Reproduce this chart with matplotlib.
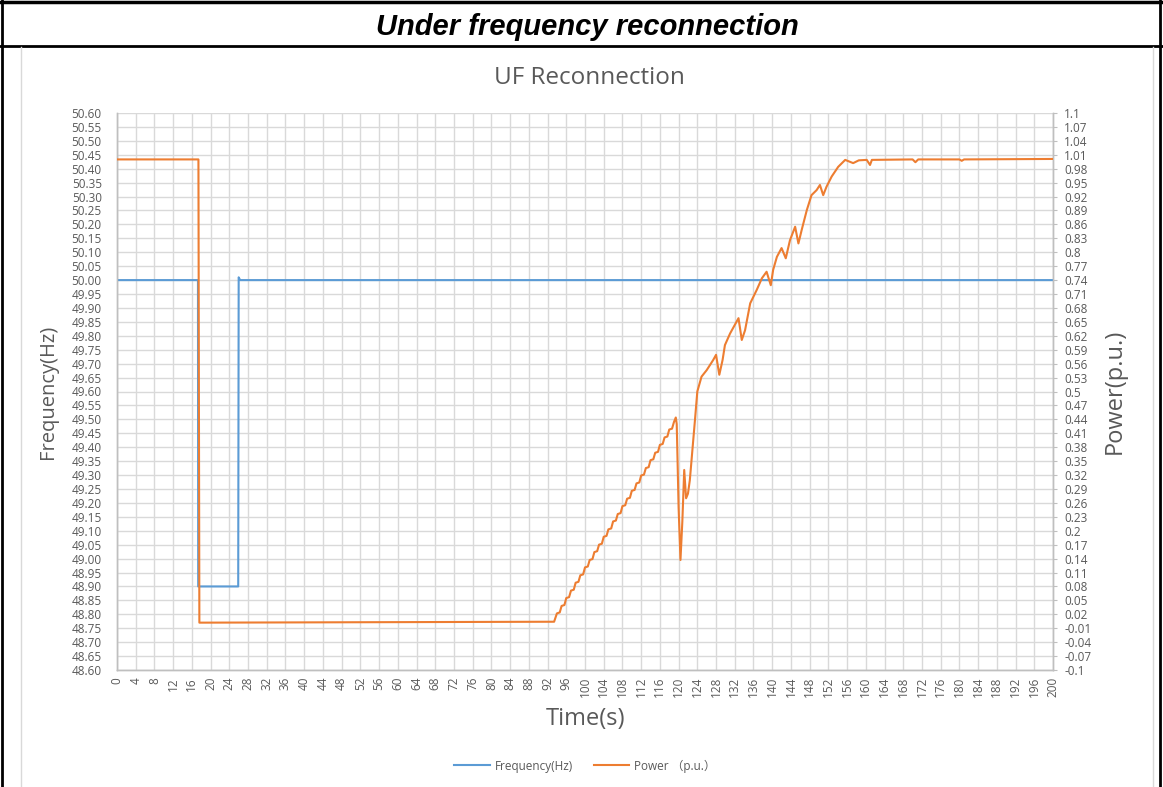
import matplotlib
matplotlib.use("Agg")
import matplotlib.pyplot as plt
from matplotlib.lines import Line2D
import numpy as np

# ---------------- data ----------------
freq_t = [0, 17.3, 17.35, 25.9, 26.0, 26.3, 200]
freq_hz = [50.0, 50.0, 48.90, 48.90, 50.01, 50.0, 50.0]

power_t = [0, 17.4, 17.6, 93.4, 94.0, 94.6, 95.0,
           95.6, 96.0, 96.6, 97.0, 97.6, 98.0, 98.6, 99.0, 99.6, 100.0,
           100.6, 101.0, 101.6, 102.0, 102.6, 103.0, 103.6, 104.0, 104.6, 105.0,
           105.6, 106.0, 106.6, 107.0, 107.6, 108.0, 108.6, 109.0, 109.6, 110.0,
           110.6, 111.0, 111.6, 112.0, 112.6, 113.0, 113.6, 114.0, 114.6, 115.0,
           115.6, 116.0, 116.6, 117.0, 117.6, 118.0, 118.6, 119.0, 119.4,
           119.6, 120.0, 120.4, 120.8, 121.2, 121.6, 122.0, 122.4, 123.0, 123.5,
           124.0, 124.9, 126.0, 127.4, 128.0, 128.7, 129.4, 129.9, 131.0, 132.8,
           133.5, 134.2, 135.3, 136.7, 137.8, 138.8, 139.7, 140.2, 141.0, 142.0,
           142.9, 143.8, 144.9, 145.6, 146.3, 147.4, 148.4, 149.5, 150.2, 150.9,
           151.6, 152.7, 154.1, 155.6, 157.3, 158.5, 160.2, 160.9, 161.3, 170.0,
           170.6, 171.2, 180.0, 180.5, 181.0, 200.0]
power_pu = [1.0, 1.0, 0.002, 0.004, 0.022, 0.024, 0.038,
            0.040, 0.055, 0.057, 0.071, 0.073, 0.088, 0.090, 0.104, 0.106, 0.121,
            0.123, 0.137, 0.139, 0.154, 0.156, 0.170, 0.172, 0.187, 0.189, 0.203,
            0.205, 0.220, 0.222, 0.236, 0.238, 0.253, 0.255, 0.269, 0.271, 0.286,
            0.288, 0.302, 0.304, 0.319, 0.321, 0.335, 0.337, 0.352, 0.354, 0.368,
            0.370, 0.385, 0.387, 0.401, 0.403, 0.418, 0.420, 0.434, 0.444,
            0.430, 0.250, 0.137, 0.220, 0.331, 0.270, 0.280, 0.309, 0.380, 0.439,
            0.500, 0.532, 0.546, 0.568, 0.579, 0.536, 0.568, 0.600, 0.625, 0.658,
            0.611, 0.632, 0.690, 0.719, 0.744, 0.758, 0.729, 0.762, 0.790, 0.809,
            0.787, 0.826, 0.855, 0.819, 0.848, 0.891, 0.923, 0.934, 0.945, 0.923,
            0.941, 0.963, 0.984, 0.999, 0.992, 0.998, 0.999, 0.988, 0.999, 1.000,
            0.994, 1.000, 1.000, 0.997, 1.000, 1.001]

x_ticks = list(range(0, 201, 4))
freq_ticks = [round(48.60 + 0.05 * k, 2) for k in range(41)]
power_ticks = [round(-0.1 + 0.03 * k, 2) for k in range(41)]

# ---------------- style ----------------
TXT = "#595959"
GRID = "#D9D9D9"
BLUE = "#5B9BD5"
ORANGE = "#ED7D31"
FONT = ["Open Sans", "DejaVu Sans"]
plt.rcParams["font.family"] = FONT

W, H = 1163, 787
fig = plt.figure(figsize=(W / 100, H / 100), dpi=100)

def fx(px):
    return px / W

def fy(py):
    return 1 - py / H

ax = fig.add_axes([fx(117), fy(670), fx(1053) - fx(117), fy(113) - fy(670)])
ax2 = ax.twinx()

ax.plot(freq_t, freq_hz, color=BLUE, lw=1.5, zorder=3)
ax2.plot(power_t, power_pu, color=ORANGE, lw=1.5, zorder=3)

ax.set_xlim(0, 200)
ax.set_ylim(48.60, 50.60)
ax2.set_ylim(-0.1, 1.1)

TICK_FS = 8.5
ax.set_xticks(x_ticks)
ax.set_xticklabels([str(v) for v in x_ticks], rotation=90, fontsize=TICK_FS, color=TXT)
ax.set_yticks(freq_ticks)
ax.set_yticklabels(["%.2f" % v for v in freq_ticks], fontsize=TICK_FS, color=TXT)
ax2.set_yticks(power_ticks)
ax2.set_yticklabels(["%g" % v for v in power_ticks], fontsize=TICK_FS, color=TXT)

ax.grid(True, color=GRID, lw=1.0, zorder=0)
ax.set_axisbelow(True)
ax.tick_params(axis="y", length=0, pad=11)
ax.tick_params(axis="x", length=0, pad=5)
ax2.tick_params(axis="y", length=3, width=0.8, color="#BFBFBF", pad=5)

for a in (ax, ax2):
    for s in a.spines.values():
        s.set_color("#BFBFBF")
        s.set_linewidth(1.0)
    a.spines["top"].set_visible(False)

ax.set_xlabel("Time(s)", fontsize=17, color=TXT, labelpad=7)
ax.set_ylabel("Frequency(Hz)", fontsize=14.5, color=TXT, labelpad=10)
ax2.set_ylabel("Power(p.u.)", fontsize=17, color=TXT, labelpad=8)

# chart title
fig.text(fx(589), fy(78), "UF Reconnection", fontsize=17.5, color=TXT,
         ha="center", va="center")

# legend (bottom, centered)
leg = fig.legend([Line2D([], [], color=BLUE, lw=1.5), Line2D([], [], color=ORANGE, lw=1.5)],
                 ["Frequency(Hz)", "Power （p.u.）"],
                 loc="center", bbox_to_anchor=(fx(585), fy(766)), ncol=2, frameon=False,
                 labelcolor=TXT, handlelength=3.0, columnspacing=1.8, handletextpad=0.4,
                 prop={"family": ["Open Sans", "Noto Sans CJK SC", "DejaVu Sans"], "size": 8.5})

# table header and borders
fig.text(fx(587), fy(27), "Under frequency reconnection", fontsize=21,
         fontweight="bold", fontstyle="italic", family=["Liberation Sans", "DejaVu Sans"],
         ha="center", va="center", color="black")

def fline(x0, y0, x1, y1, color="black", lw=2.0):
    fig.add_artist(Line2D([fx(x0), fx(x1)], [fy(y0), fy(y1)], color=color, lw=lw,
                          transform=fig.transFigure))

fline(0, 2, W, 2, lw=2.5)
fline(0, 46, W, 46, lw=2.0)
fline(2, 0, 2, H, lw=2.0)
fline(1160, 0, 1160, H, lw=2.0)
fline(21, 47, 21, H, color="#D9D9D9", lw=1.0)
fline(1153, 47, 1153, H, color="#D9D9D9", lw=1.0)

fig.savefig("out.png", dpi=100)
